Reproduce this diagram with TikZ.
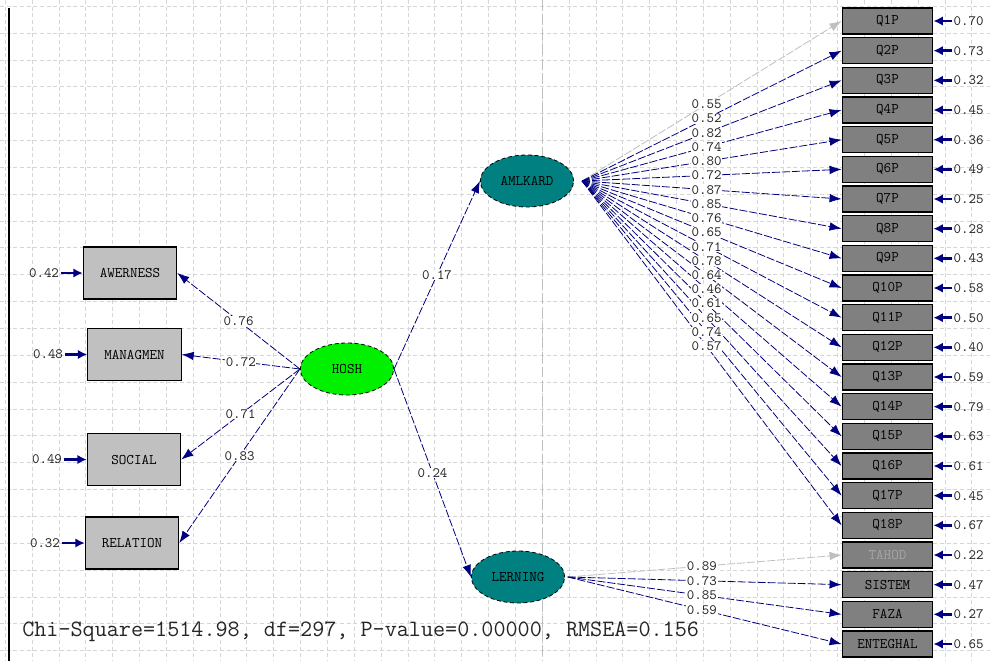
\documentclass[tikz,border=0pt]{standalone}
\usepackage{fontspec}
\usetikzlibrary{shapes.geometric,arrows.meta}

\definecolor{lisnavy}{HTML}{000080}
\definecolor{lisgrid}{HTML}{D6D6D6}
\definecolor{boxlight}{HTML}{C0C0C0}
\definecolor{boxdark}{HTML}{808080}
\definecolor{hoshgreen}{HTML}{00F000}
\definecolor{latteal}{HTML}{008080}

\tikzset{
  gridline/.style={lisgrid, line width=0.5pt, dash pattern=on 3pt off 2pt},
  obsleft/.style={draw=black, line width=0.9pt, fill=boxlight, minimum width=70pt, minimum height=39pt,
    inner sep=0pt, font=\ttfamily\fontsize{11}{12}\selectfont},
  obsright/.style={draw=black, line width=0.9pt, fill=boxdark, minimum width=68pt, minimum height=19.5pt,
    inner sep=0pt, font=\ttfamily\fontsize{11}{12}\selectfont},
  latent/.style={ellipse, draw=black, line width=0.6pt, densely dashed, minimum width=70pt, minimum height=39pt,
    inner sep=0pt, font=\ttfamily\fontsize{11}{12}\selectfont},
  load/.style={lisnavy, line width=0.6pt, dash pattern=on 6pt off 1.5pt, -{Latex[length=9pt,width=6.5pt]}},
  loadfix/.style={load, color=black!25},
  errarr/.style={lisnavy, line width=2pt, -{Latex[length=7pt,width=7pt]}},
  val/.style={fill=white, inner sep=0.5pt, text=black!85, font=\ttfamily\fontsize{10.7}{12}\selectfont},
  errval/.style={inner sep=1pt, text=black!85, font=\ttfamily\fontsize{10.7}{12}\selectfont},
}

\begin{document}
\begin{tikzpicture}[x=0.75pt, y=-0.75pt]
  % page and grid
  \fill[white] (0,0) rectangle (990,661);
  \useasboundingbox (0,0) rectangle (990,661);
  \foreach \k in {-1,...,35} \draw[gridline] ({32+26.85*\k},0) -- ({32+26.85*\k},661);
  \foreach \k in {-1,...,24} \draw[gridline] (0,{33+26.85*\k}) -- (990,{33+26.85*\k});
  \draw[black!25, line width=0.8pt, dash pattern=on 8pt off 3pt] ({32+26.85*19},0) -- ({32+26.85*19},661);
  \draw[line width=1.5pt] (9,8) -- (9,661);

  % latent variables
  \node[latent, fill=hoshgreen] (hosh) at (347,369) {HOSH};
  \node[latent, fill=latteal] (amlkard) at (527,181) {AMLKARD};
  \node[latent, fill=latteal] (lerning) at (518,577) {LERNING};
  \coordinate (amlout) at ([xshift=6pt]amlkard.east);
  \coordinate (lernout) at ([xshift=2pt]lerning.east);

  % left indicators of HOSH
  \node[obsleft] (awer) at (130,273) {AWERNESS};
  \node[obsleft] (manag) at (134.5,354.5) {MANAGMEN};
  \node[obsleft] (social) at (134,459.5) {SOCIAL};
  \node[obsleft] (relat) at (132,543) {RELATION};
  \node[errval] (eawer) at (44,273) {0.42};
  \node[errval] (emanag) at (48,354.5) {0.48};
  \node[errval] (esocial) at (47,459.5) {0.49};
  \node[errval] (erelat) at (45,543) {0.32};
  \foreach \b in {awer,manag,social,relat} \draw[errarr] (e\b) -- (\b);

  \draw[load] (hosh.west) -- (awer.east);
  \draw[load] (hosh.west) -- (manag.east);
  \draw[load] (hosh.west) -- (social.east);
  \draw[load] (hosh.west) -- (relat.east);
  \draw[load] (hosh.east) -- (amlkard.west);
  \draw[load] (hosh.east) -- (lerning.west);
  \path (hosh.west) -- (awer.east) node[val, pos=0.5] {0.76};
  \path (hosh.west) -- (manag.east) node[val, pos=0.5] {0.72};
  \path (hosh.west) -- (social.east) node[val, pos=0.5] {0.71};
  \path (hosh.west) -- (relat.east) node[val, pos=0.5] {0.83};
  \path (hosh.east) -- (amlkard.west) node[val, pos=0.5] {0.17};
  \path (hosh.east) -- (lerning.west) node[val, pos=0.5] {0.24};

  % AMLKARD indicators
  \foreach \i/\ld/\er/\ls in {1/0.55/0.70/loadfix, 2/0.52/0.73/load, 3/0.82/0.32/load, 4/0.74/0.45/load,
      5/0.80/0.36/load, 6/0.72/0.49/load, 7/0.87/0.25/load, 8/0.85/0.28/load, 9/0.76/0.43/load,
      10/0.65/0.58/load, 11/0.71/0.50/load, 12/0.78/0.40/load, 13/0.64/0.59/load, 14/0.46/0.79/load,
      15/0.61/0.63/load, 16/0.65/0.61/load, 17/0.74/0.45/load, 18/0.57/0.67/load} {
    \node[obsright] (q\i) at (887.5,{21+29.667*(\i-1)}) {Q\i P};
    \node[errval, anchor=west] (eq\i) at (952,{21+29.667*(\i-1)}) {\er};
    \draw[errarr] (eq\i) -- (q\i);
    \draw[\ls] (amlout) -- (q\i.west);
  }
  \foreach \i/\ld in {1/0.55, 2/0.52, 3/0.82, 4/0.74, 5/0.80, 6/0.72, 7/0.87, 8/0.85, 9/0.76,
      10/0.65, 11/0.71, 12/0.78, 13/0.64, 14/0.46, 15/0.61, 16/0.65, 17/0.74, 18/0.57}
    \path (amlout) -- (q\i.west) node[val, pos=0.48] {\ld};

  % LERNING indicators
  \foreach \n/\t/\j/\er/\ls in {tahod/\textcolor{black!35}{TAHOD}/19/0.22/loadfix, sistem/SISTEM/20/0.47/load,
      faza/FAZA/21/0.27/load, enteghal/ENTEGHAL/22/0.65/load} {
    \node[obsright] (\n) at (887.5,{21+29.667*(\j-1)}) {\t};
    \node[errval, anchor=west] (e\n) at (952,{21+29.667*(\j-1)}) {\er};
    \draw[errarr] (e\n) -- (\n);
    \draw[\ls] (lernout) -- (\n.west);
  }
  \foreach \n/\ld in {tahod/0.89, sistem/0.73, faza/0.85, enteghal/0.59}
    \path (lernout) -- (\n.west) node[val, pos=0.49] {\ld};

  % fit statistics
  \node[anchor=west, inner sep=0pt, text=black!85, font=\ttfamily\fontsize{17.6}{19}\selectfont] (fit) at (22,632)
    {Chi-Square=1514.98, df=297, P-value=0.00000, RMSEA=0.156};
\end{tikzpicture}
\end{document}
